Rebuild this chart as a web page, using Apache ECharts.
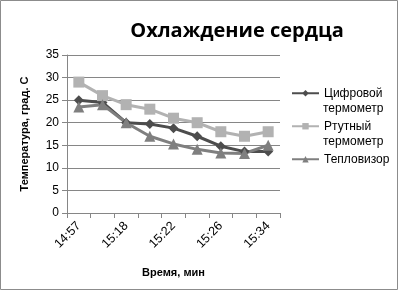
<!DOCTYPE html>
<html><head><meta charset="utf-8">
<script src="https://cdn.jsdelivr.net/npm/echarts@6/dist/echarts.min.js"></script>
<style>html,body{margin:0;padding:0;background:#fff}#c{width:401px;height:292px}</style>
</head><body><div id="c"></div>
<script>
const categories = ['14:57','15:10','15:18','15:20','15:22','15:24','15:26','15:30','15:34'];
const digital = [25, 24.5, 20, 19.7, 18.8, 17, 14.8, 13.6, 13.6];
const mercury = [29, 26, 24, 23, 21, 20, 18, 17, 18];
const thermal = [23.5, 24, 20, 17, 15.3, 14.1, 13.3, 13.2, 15];
const names = ['Цифровой\nтермометр','Ртутный\nтермометр','Тепловизор'];
const yTicks = [0,5,10,15,20,25,30,35];

const chart = echarts.init(document.getElementById('c'));
const font = 'Liberation Sans, Arial, sans-serif';
function s(name, data, color, symbol, size){
  return {name, type:'line', data, symbol, symbolSize:size,
    lineStyle:{color, width:3}, itemStyle:{color}, animation:false};
}
const legendTop = 85, legendStep = 33, textX = 323;
const secondLines = [];
names.forEach((n, i) => {
  const parts = n.split('\n');
  if (parts[1]) secondLines.push({type:'text', left:textX, top: legendTop + i*legendStep + 8.25 + 16.5 - 7,
    style:{text:parts[1], fontSize:12, fill:'#000', fontFamily:font}, silent:true});
});
chart.setOption({
  animation:false,
  textStyle:{fontFamily:font},
  graphic:[{type:'rect', shape:{x:0.5,y:0.5,width:397,height:289}, style:{fill:'none', stroke:'#8c8c8c', lineWidth:1}, silent:true}].concat(secondLines),
  title:{text:'Охлаждение сердца', left:232, top:16, textAlign:'center',
    textStyle:{fontSize:20, fontWeight:'bold', color:'#000', fontFamily:'Open Sans, DejaVu Sans, sans-serif'}},
  grid:{left:67, right:121, top:55, bottom:79},
  legend:{orient:'vertical', left:291, top:legendTop, padding:0, itemWidth:27, itemHeight:8, itemGap:legendStep-16.5,
    formatter: n => n.split('\n')[0],
    textStyle:{fontSize:12, color:'#000', lineHeight:16.5, fontFamily:font},
    data:names},
  xAxis:{type:'category', data:categories, boundaryGap:true,
    name:'Время, мин', nameLocation:'middle', nameGap:54,
    nameTextStyle:{fontSize:11, fontWeight:'bold', color:'#000'},
    axisLine:{lineStyle:{color:'#868686'}},
    axisTick:{show:true, interval:0, lineStyle:{color:'#868686'}},
    axisLabel:{interval:1, rotate:45, fontSize:12.5, color:'#000', margin:11},
    splitLine:{show:false}},
  yAxis:{type:'value', min:0, max:35, interval:5,
    name:'Температура, град. С', nameLocation:'middle', nameGap:37, nameRotate:90,
    nameTextStyle:{fontSize:11, fontWeight:'bold', color:'#000'},
    axisLine:{show:true, lineStyle:{color:'#868686'}},
    axisTick:{show:true, lineStyle:{color:'#868686'}},
    axisLabel:{fontSize:12, color:'#000', margin:8, formatter:v=>yTicks.includes(v)?String(v):''},
    splitLine:{lineStyle:{color:'#868686'}}},
  series:[
    s(names[0], digital, '#4d4d4d', 'diamond', 10),
    s(names[1], mercury, '#b2b2b2', 'rect', 11),
    s(names[2], thermal, '#7f7f7f', 'triangle', 11)
  ]
});
</script></body></html>
